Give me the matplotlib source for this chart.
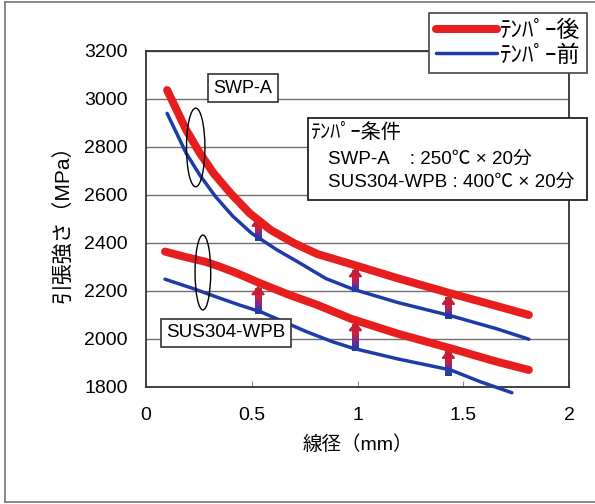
import matplotlib
matplotlib.use("Agg")
import matplotlib.pyplot as plt
from matplotlib.patches import Ellipse, Rectangle
from matplotlib.collections import LineCollection
from matplotlib.colors import LinearSegmentedColormap
import numpy as np

plt.rcParams['font.family'] = ['Liberation Sans', 'Noto Sans CJK JP', 'DejaVu Sans']

# values (x: wire diameter mm, y: tensile strength MPa)
swp_after_x = [0.10, 0.145, 0.19, 0.255, 0.32, 0.40, 0.49, 0.59, 0.70, 0.81, 0.97, 1.19, 1.44, 1.66, 1.81]
swp_after_y = [3035, 2952, 2869, 2772, 2688, 2605, 2522, 2452, 2397, 2352, 2310, 2251, 2188, 2135, 2098]
swp_before_x = [0.10, 0.145, 0.19, 0.255, 0.33, 0.41, 0.50, 0.62, 0.73, 0.85, 0.98, 1.19, 1.44, 1.66, 1.81]
swp_before_y = [2938, 2855, 2772, 2680, 2590, 2510, 2438, 2369, 2313, 2250, 2205, 2150, 2095, 2040, 1997]
sus_after_x = [0.09, 0.18, 0.28, 0.35, 0.43, 0.54, 0.68, 0.81, 0.97, 1.19, 1.44, 1.66, 1.81]
sus_after_y = [2362, 2341, 2320, 2299, 2272, 2230, 2181, 2140, 2082, 2020, 1959, 1903, 1869]
sus_before_x = [0.09, 0.22, 0.33, 0.44, 0.54, 0.65, 0.76, 0.88, 0.98, 1.19, 1.44, 1.58, 1.73]
sus_before_y = [2247, 2209, 2174, 2140, 2112, 2070, 2028, 1987, 1959, 1915, 1869, 1820, 1774]

# arrows: x, bottom (before), top (after)
arrow_x = [0.53, 0.99, 1.43, 0.53, 0.99, 1.43]
arrow_lo = [2425, 2210, 2100, 2120, 1965, 1860]
arrow_hi = [2505, 2295, 2180, 2220, 2070, 1955]

x_ticks = [0, 0.5, 1, 1.5, 2]
x_ticklabels = ['0', '0.5', '1', '1.5', '2']
y_ticks = [1800, 2000, 2200, 2400, 2600, 2800, 3000, 3200]

red = '#e61e1e'
blue = '#1e3ca8'

fig = plt.figure(figsize=(5.95, 5.04), dpi=100)
W, H = 595, 504
ax = fig.add_axes([146 / W, 1 - 386.5 / H, (569 - 146) / W, (386.5 - 50.5) / H])

ax.set_xlim(0, 2)
ax.set_ylim(1800, 3200)
ax.set_xticks(x_ticks)
ax.set_xticklabels(x_ticklabels)
ax.set_yticks(y_ticks)
ax.grid(axis='y', color='#707070', linewidth=1.0)
ax.set_axisbelow(True)
ax.tick_params(axis='y', length=0, pad=13, labelsize=14)
ax.tick_params(axis='x', direction='in', length=4, width=0.8, color='#888888', pad=15, labelsize=14)
for s in ax.spines.values():
    s.set_color('#333333')
    s.set_linewidth(1.3)

line_kw = dict(solid_capstyle='round', solid_joinstyle='round')
ax.plot(swp_after_x, swp_after_y, color=red, linewidth=5.8, label='ﾃﾝﾊﾟｰ後', zorder=3, **line_kw)
ax.plot(swp_before_x, swp_before_y, color=blue, linewidth=2.5, label='ﾃﾝﾊﾟｰ前', zorder=3, **line_kw)
ax.plot(sus_after_x, sus_after_y, color=red, linewidth=5.8, zorder=3, **line_kw)
ax.plot(sus_before_x, sus_before_y, color=blue, linewidth=2.5, zorder=3, clip_on=False, **line_kw)

# gradient arrows from before to after
cmap = LinearSegmentedColormap.from_list('br', [blue, '#7a2a90', red])
for x0, lo, hi in zip(arrow_x, arrow_lo, arrow_hi):
    ys = np.linspace(lo, hi - 20, 14)
    segs = [[(x0, ys[i]), (x0, ys[i + 1])] for i in range(len(ys) - 1)]
    lc = LineCollection(segs, colors=cmap(np.linspace(0, 1, len(segs))), linewidths=5,
                        capstyle='projecting', antialiaseds=False, zorder=2.5)
    ax.add_collection(lc)
    ax.annotate('', xy=(x0, hi), xytext=(x0, hi - 25),
                arrowprops=dict(arrowstyle='-|>,head_width=0.4,head_length=0.5',
                                color='#c0203a', lw=1.5, shrinkA=0, shrinkB=0), zorder=2.6)

# loops grouping the curve pairs
ax.add_patch(Ellipse((0.235, 2796), 0.087, 328, fill=False, edgecolor='black', linewidth=1.0, zorder=5))
ax.add_patch(Ellipse((0.269, 2275), 0.074, 312, fill=False, edgecolor='black', linewidth=1.0, zorder=5))

box = dict(boxstyle='square,pad=0.3', facecolor='white', edgecolor='#333333', linewidth=1.2)
ax.text(0.459, 3043, 'SWP-A', fontsize=13, ha='center', va='center', bbox=box, zorder=6)
ax.text(0.378, 2023, 'SUS304-WPB', fontsize=13.5, ha='center', va='center', bbox=box, zorder=6)

ax.set_xlabel('線径（mm）', fontsize=14, labelpad=8)
ax.set_ylabel('引張強さ（MPa）', fontsize=15, labelpad=8)

# temper condition box
fig.patches.append(Rectangle((308 / W, 1 - 200 / H), (587 - 308) / W, 82 / H,
                             transform=fig.transFigure, facecolor='white',
                             edgecolor='#222222', linewidth=1.3, zorder=6))
fig.text(310 / W, 1 - 132 / H, 'ﾃﾝﾊﾟｰ条件', fontsize=14.5, va='center', zorder=7)
fig.text(328 / W, 1 - 159 / H, 'SWP-A    : 250℃ × 20分', fontsize=13.5, va='center', zorder=7)
fig.text(328 / W, 1 - 182 / H, 'SUS304-WPB : 400℃ × 20分', fontsize=13.5, va='center', zorder=7)

leg = ax.legend(loc='upper right', bbox_to_anchor=(587 / W, 1 - 12.5 / H),
                bbox_transform=fig.transFigure, fontsize=16.5, frameon=True,
                fancybox=False, edgecolor='#444444', framealpha=1,
                handlelength=2.7, handletextpad=0.1, borderpad=0.3, labelspacing=0.05,
                borderaxespad=0)
leg.get_frame().set_linewidth(1.2)
for h in leg.get_lines():
    h.set_solid_capstyle('round')

# outer frame lines
fig.add_artist(plt.Line2D([5 / W, 5 / W], [1 - 502 / H, 1 - 2 / H], transform=fig.transFigure, color='#777777', lw=1.2))
fig.add_artist(plt.Line2D([5 / W, 1], [1 - 502 / H, 1 - 502 / H], transform=fig.transFigure, color='#777777', lw=1.2))
fig.add_artist(plt.Line2D([5 / W, 1], [1 - 2 / H, 1 - 2 / H], transform=fig.transFigure, color='#777777', lw=1.2))

fig.savefig('out.png', dpi=100)
